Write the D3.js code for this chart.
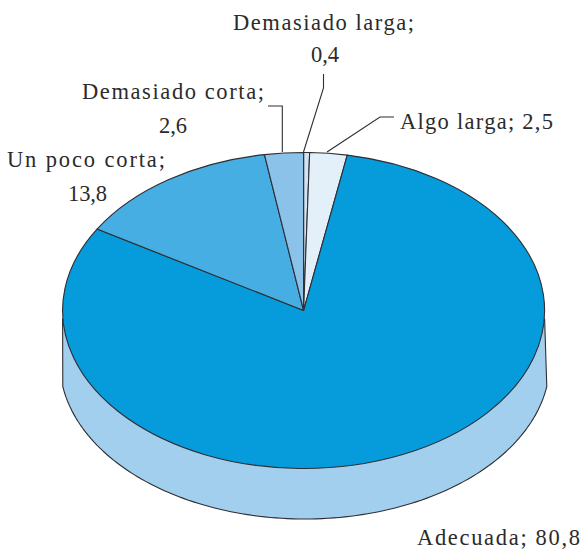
<!DOCTYPE html>
<html>
<head>
<meta charset="utf-8">
<script src="https://cdnjs.cloudflare.com/ajax/libs/d3/7.8.5/d3.min.js"></script>
<style>
html,body{margin:0;padding:0;background:#fff}
svg{display:block}
text{font-family:"Liberation Serif",serif;font-size:22.5px;fill:#2b2b2b}
</style>
</head>
<body>
<svg id="c" width="582" height="549"></svg>
<script>
const categories = ["Demasiado larga", "Algo larga", "Adecuada", "Un poco corta", "Demasiado corta"];
const values = [0.4, 2.5, 80.8, 13.8, 2.6];
const sliceColors = ["#cfe4f5", "#e3f0fa", "#069cdc", "#47aee3", "#8ac2ea"];
const sideColor = "#a3cfee";
const edge = "#2e2e33";

const svg = d3.select("#c");
const cx = 303.6, cy = 310.5, rx = 241, ry = 158;
const sideCx = 304.8, sideCy = 362, sideRx = 245, sideRy = 157, sideHalf = 242;
const fmt = v => String(v).replace(".", ",");

// side wall: straight edges that end in corners on the lower arc
const lim = Math.asin(sideHalf / sideRx);
const wallPts = d3.range(-60, 60.01, 1).map(k => k / 60 * lim)
  .map(t => [sideCx + sideRx * Math.sin(t), sideCy + sideRy * Math.cos(t)]);
svg.append("path")
  .attr("d", d3.line()([[cx - rx, cy + 8], ...wallPts, [cx + rx, cy + 8]]))
  .attr("fill", sideColor)
  .attr("stroke", edge)
  .attr("stroke-width", 1.1)
  .attr("stroke-linejoin", "round");

// top face
const start = 0;
const pie = d3.pie().sort(null).value(d => d)
  .startAngle(start).endAngle(start + 2 * Math.PI);
const arc = d3.arc().innerRadius(0).outerRadius(rx);
svg.append("g")
  .attr("transform", `translate(${cx},${cy}) scale(1,${ry / rx})`)
  .selectAll("path")
  .data(pie(values))
  .join("path")
  .attr("d", arc)
  .attr("fill", (d, i) => sliceColors[i])
  .attr("stroke", edge)
  .attr("stroke-width", 1.1)
  .attr("stroke-linejoin", "round")
  .attr("vector-effect", "non-scaling-stroke");

// leader lines
const leaders = [
  [[323.5, 74], [323.5, 88], [303.5, 152]],
  [[394, 117], [380, 117], [327, 152]],
  [[268, 106], [282.3, 106], [282.3, 152]]
];
svg.append("g").selectAll("path")
  .data(leaders)
  .join("path")
  .attr("d", d3.line())
  .attr("fill", "none")
  .attr("stroke", edge)
  .attr("stroke-width", 1.1);

// labels: [text, left x, baseline y, width]
const labels = [
  [categories[0] + ";", 233, 30, 181],
  [fmt(values[0]), 311, 62, 28],
  [categories[4] + ";", 82, 99, 182],
  [fmt(values[4]), 159, 133, 28],
  [categories[3] + ";", 7, 167, 158],
  [fmt(values[3]), 68, 201, 39],
  [categories[1] + "; " + fmt(values[1]), 400, 129, 153],
  [categories[2] + "; " + fmt(values[2]), 417, 545, 163]
];
svg.append("g").selectAll("text")
  .data(labels)
  .join("text")
  .attr("x", d => d[1])
  .attr("y", d => d[2])
  .attr("textLength", d => d[3])
  .attr("lengthAdjust", "spacing")
  .text(d => d[0]);
</script>
</body>
</html>
